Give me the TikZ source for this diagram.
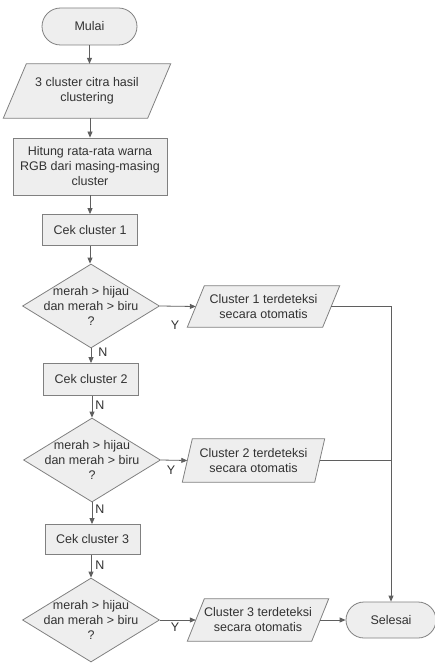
\documentclass[tikz,border=0pt]{standalone}
\usepackage{fontspec}
\setmainfont{Liberation Sans}
\usetikzlibrary{shapes.geometric,shapes.misc,arrows.meta,backgrounds}
\definecolor{fillc}{RGB}{238,238,238}
\definecolor{edgec}{RGB}{128,128,128}
\definecolor{linec}{RGB}{95,95,95}
\definecolor{textc}{RGB}{50,50,50}
\begin{document}
\begin{tikzpicture}[x=1pt,y=-1pt,
  txt/.style={font=\fontsize{12.5}{15}\selectfont, text=textc, align=center, inner sep=0pt},
  base/.style={txt, draw=edgec, fill=fillc, line width=0.8pt},
  term/.style={base, rounded rectangle, minimum width=95pt, minimum height=37pt},
  proc/.style={base, rectangle},
  iobox/.style={txt, rectangle},
  iodraw/.style={draw=edgec, fill=fillc, line width=0.8pt, line join=miter},
  dec/.style={draw=edgec, fill=fillc, line width=0.8pt, diamond, inner sep=0pt, minimum width=137pt, minimum height=84pt},
  conn/.style={draw=linec, line width=0.8pt, -{Triangle[length=6pt,width=5pt]}},
  plain/.style={draw=linec, line width=0.8pt},
  lbl/.style={txt}
]
\useasboundingbox (0,0) rectangle (435,663);

% nodes
\node[term] (start) at (89.5,26.5) {Mulai};
\node[iobox, minimum width=144pt, minimum height=54pt] (p0) at (87,91) {3 cluster citra hasil\\clustering};
\node[proc, minimum width=154pt, minimum height=57pt] (hit) at (90,166.5) {Hitung rata-rata warna\\RGB dari masing-masing\\cluster};
\node[proc, minimum width=95pt, minimum height=31pt] (c1) at (90,230) {Cek cluster 1};
\node[dec] (d1) at (91,306) {};
\node[txt] (d1t) at (d1.center) {merah > hijau\\dan merah > biru\\?};
\node[iobox, minimum width=135pt, minimum height=41pt] (o1) at (263.5,306.5) {Cluster 1 terdeteksi\\secara otomatis};

\node[proc, minimum width=95pt, minimum height=32pt] (c2) at (91,379.5) {Cek cluster 2};
\node[dec] (d2) at (92,460) {};
\node[txt] (d2t) at (d2.center) {merah > hijau\\dan merah > biru\\?};
\node[iobox, minimum width=132pt, minimum height=43pt] (o2) at (253.5,460.5) {Cluster 2 terdeteksi\\secara otomatis};

\node[proc, minimum width=95pt, minimum height=30pt] (c3) at (92.5,539.5) {Cek cluster 3};
\node[dec] (d3) at (91,620) {};
\node[txt] (d3t) at (d3.center) {merah > hijau\\dan merah > biru\\?};
\node[iobox, minimum width=124pt, minimum height=42pt] (o3) at (258,620) {Cluster 3 terdeteksi\\secara otomatis};

\node[term, minimum width=90pt, minimum height=36pt] (end) at (391,620) {Selesai};

% parallelogram outlines behind the texts
\begin{scope}[on background layer]
\foreach \n/\s in {p0/23, o1/17, o2/10, o3/17}{
  \draw[iodraw] ([xshift={-0.5*\s pt}]\n.south west) -- ([xshift={0.5*\s pt}]\n.north west)
     -- ([xshift={0.5*\s pt}]\n.north east) -- ([xshift={-0.5*\s pt}]\n.south east) -- cycle;
}
\end{scope}

% connectors
\draw[conn] (start.south) -- (p0.north -| start.south);
\draw[conn] (p0.south -| hit.north) -- (hit.north);
\draw[conn] (hit.south) -- (c1.north);
\draw[conn] (c1.south) -- (d1.north -| c1.south);
\draw[conn] (d1.east) -- (o1.west);
\draw[conn] (d1.south) -- (c2.north -| d1.south);
\draw[conn] (c2.south -| d2.north) -- (d2.north);
\draw[conn] (d2.east) -- (o2.west);
\draw[conn] (d2.south) -- (c3.north -| d2.south);
\draw[conn] (c3.south -| d3.north) -- (d3.north);
\draw[conn] (d3.east) -- (o3.west);
\draw[conn] (o3.east) -- (end.west);
\coordinate (j1) at (end.north |- o1.east);
\coordinate (j2) at (end.north |- o2.east);
\draw[conn] (o1.east) -- (j1) -- (end.north);
\draw[plain] (o2.east) -- (j2);

% labels
\node[lbl] (y1) at (175,325) {Y};
\node[lbl] (y2) at (171,470) {Y};
\node[lbl] (y3) at (175,627) {Y};
\node[lbl] (n1) at (103,352) {N};
\node[lbl] (n2) at (100,405) {N};
\node[lbl] (n3) at (100,509) {N};
\node[lbl] (n4) at (100,565) {N};
\end{tikzpicture}
\end{document}
